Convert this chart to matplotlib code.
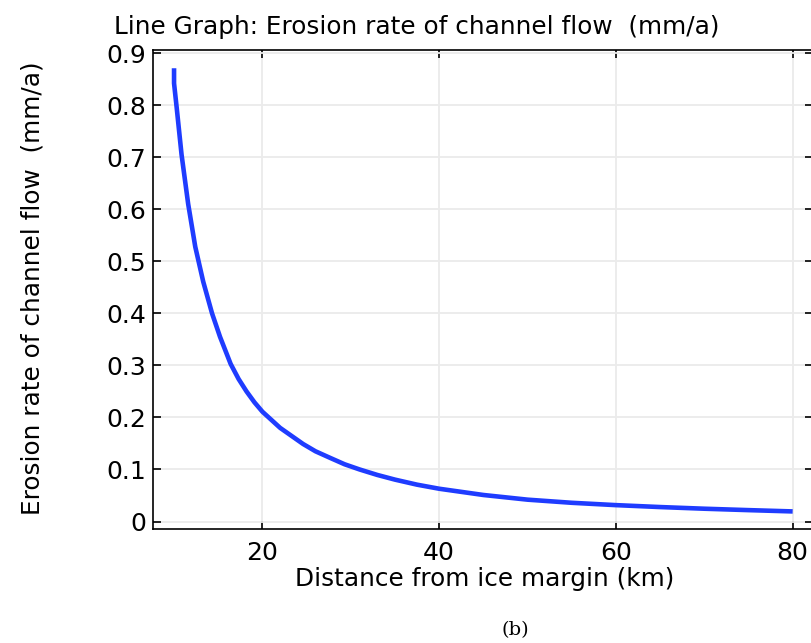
import numpy as np
import matplotlib
matplotlib.use("Agg")
import matplotlib.pyplot as plt

# distance from ice margin (km) and erosion rate (mm/a)
distance = [10, 10, 10.3, 10.85, 11.6, 12.4, 13.3, 14.3, 15.2, 16.4, 17.3, 18.2, 19.1,
            20, 22, 24.6, 26, 27.7, 29.3, 31, 33, 35, 37.5, 40, 45, 50, 55, 60, 65, 70, 75, 80]
erosion = [0.871, 0.842, 0.795, 0.705, 0.610, 0.528, 0.461, 0.400, 0.355, 0.303, 0.274, 0.250, 0.229,
           0.211, 0.180, 0.149, 0.135, 0.122, 0.110, 0.100, 0.0895, 0.0805, 0.0708, 0.063,
           0.051, 0.042, 0.036, 0.0315, 0.0278, 0.0246, 0.0219, 0.0194]

xticks = [20, 40, 60, 80]
yticks = [0, 0.1, 0.2, 0.3, 0.4, 0.5, 0.6, 0.7, 0.8, 0.9]
ytick_labels = ["0", "0.1", "0.2", "0.3", "0.4", "0.5", "0.6", "0.7", "0.8", "0.9"]

fig = plt.figure(figsize=(8.11, 6.43), dpi=100)
ax = fig.add_axes([0.189, 0.178, 0.814, 0.745])

ax.plot(distance, erosion, color="#1f3cff", lw=3.3, solid_capstyle="butt",
        solid_joinstyle="round", zorder=3)

ax.set_xlim(7.65, 82.35)
ax.set_ylim(-0.0135, 0.907)
ax.set_xticks(xticks)
ax.set_yticks(yticks)
ax.set_yticklabels(ytick_labels)
ax.grid(True, color="#ebebeb", lw=1.3, zorder=0)
ax.tick_params(direction="in", length=6, width=1.2, top=True, right=True,
               labelsize=18)
ax.tick_params(axis="y", pad=5)
ax.tick_params(axis="x", pad=9)
for s in ax.spines.values():
    s.set_linewidth(1.2)

fig.text(417 / 811, 1 - 27 / 643, "Line Graph: Erosion rate of channel flow  (mm/a)",
         ha="center", va="center", fontsize=17.8)
fig.text(485 / 811, 1 - 579 / 643, "Distance from ice margin (km)",
         ha="center", va="center", fontsize=17.8)
fig.text(33 / 811, 1 - 288 / 643, "Erosion rate of channel flow  (mm/a)",
         ha="center", va="center", rotation=90, fontsize=17.8)
fig.text(515 / 811, 1 - 630 / 643, "(b)", ha="center", va="center",
         fontsize=14, family="DejaVu Serif")

fig.savefig("out.png", dpi=100)
